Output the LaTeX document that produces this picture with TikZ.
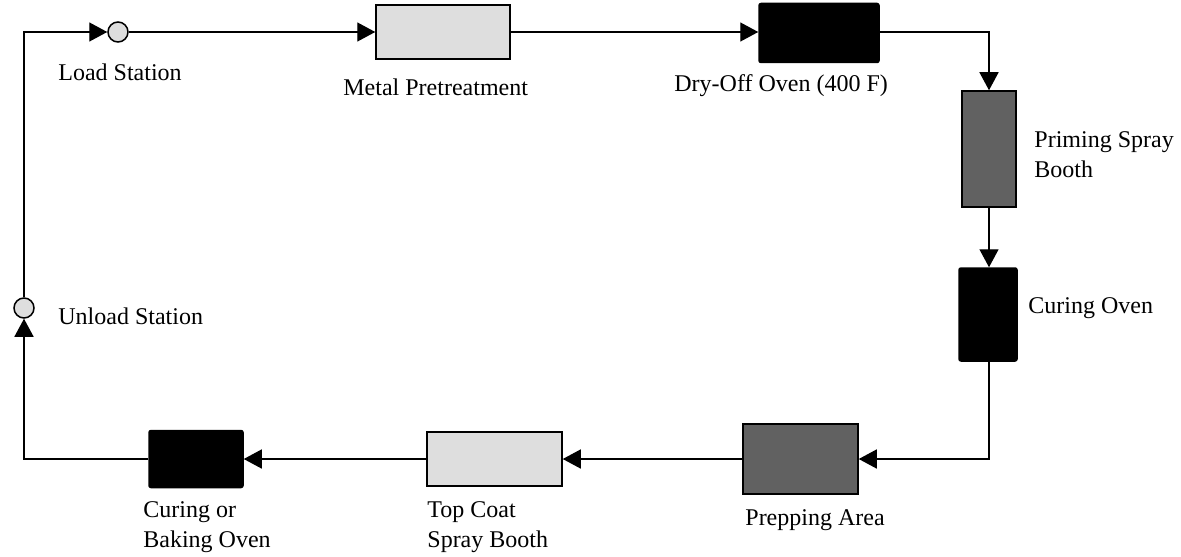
\documentclass[tikz,border=0pt]{standalone}
\usepackage{fontspec}
\setmainfont{Liberation Serif}
\usetikzlibrary{arrows.meta}
\definecolor{lightfill}{HTML}{DEDEDE}
\definecolor{darkfill}{HTML}{616161}
\begin{document}
\begin{tikzpicture}[x=0.5pt,y=-0.5pt,
  conn/.style={line width=0.7pt},
  arr/.style={conn,-{Triangle[length=9pt,width=9.5pt]}},
  box/.style={draw=black,line width=0.75pt,inner sep=0pt},
  lightbox/.style={box,fill=lightfill},
  darkbox/.style={box,fill=darkfill},
  blackbox/.style={box,fill=black,rounded corners=1pt},
  station/.style={circle,draw=black,line width=0.75pt,fill=lightfill,minimum size=10pt,inner sep=0pt},
  lbl/.style={inner sep=0pt,anchor=west,align=left,font=\fontsize{12}{15}\selectfont}]
\useasboundingbox (0,0) rectangle (1181,556);
% stations
\node[station] (load) at (118,32) {};
\node[station] (unload) at (24,308) {};
% process boxes
\node[lightbox,minimum width=67pt,minimum height=27pt] (metal) at (443,32) {};
\node[blackbox,minimum width=60pt,minimum height=29.5pt] (dry) at (819,33) {};
\node[darkbox,minimum width=27pt,minimum height=58pt] (prime) at (989,149) {};
\node[blackbox,minimum width=29pt,minimum height=46.5pt] (cure) at (988,314.5) {};
\node[darkbox,minimum width=57.5pt,minimum height=35pt] (prep) at (800.5,459) {};
\node[lightbox,minimum width=67.5pt,minimum height=27pt] (top) at (494.5,459) {};
\node[blackbox,minimum width=47pt,minimum height=28.5pt] (bake) at (196,459) {};
% corner coordinates
\coordinate (cbl) at (24,459);
\coordinate (ctl) at (24,32);
% connectors
\draw[arr] (load.east) -- (metal.west);
\draw[arr] (metal.east) -- (dry.west |- metal.west);
\draw[arr] (dry.east |- metal.east) -| (prime.north);
\draw[arr] (prime.south) -- (cure.north -| prime.south);
\draw[arr] (cure.south -| prime.south) |- (prep.east);
\draw[arr] (prep.west) -- (top.east);
\draw[arr] (top.west) -- (bake.east);
\draw[arr] (bake.west) -- (cbl) -- (unload.south);
\draw[arr] (unload.north) -- (ctl) -- (load.west);
% labels
\node[lbl] (lload) at (58,72) {Load Station};
\node[lbl] (lmetal) at (343,87) {Metal Pretreatment};
\node[lbl] (ldry) at (674,86) {Dry-Off Oven (400 F)};
\node[lbl] (lprime) at (1034,155) {Priming Spray\\Booth};
\node[lbl] (lcure) at (1028,308) {Curing Oven};
\node[lbl] (lunload) at (58,316) {Unload Station};
\node[lbl] (lprep) at (745,520) {Prepping Area};
\node[lbl] (ltop) at (427,527) {Top Coat\\Spray Booth};
\node[lbl] (lbake) at (143,527) {Curing or\\Baking Oven};
\end{tikzpicture}
\end{document}
